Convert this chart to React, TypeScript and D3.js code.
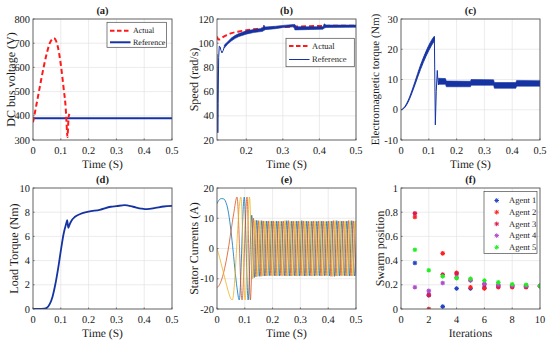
import * as d3 from 'd3';
import type { ReactNode } from 'react';

const W = 550;
const H = 345;
const COL_X = [33, 217, 401];
const ROW_Y = [19, 188];
const PW = 139;
const PH = 121;

const FONT = 'Liberation Serif, Times New Roman, serif';
const BLUE = '#1533a3';
const RED = '#ff1a1a';
const PHASE_COLORS = ['#0072bd', '#d95319', '#edb120'];
const AGENT_COLORS = ['#2444c4', '#ff2020', '#dc1850', '#b04cd0', '#22ee22'];
const GRID = '#e4e4e4';
const AXIS = '#4a4a4a';
const TXT = '#1a1a1a';

const timeTicks = [0, 0.1, 0.2, 0.3, 0.4, 0.5];

// (a) DC bus voltage
const dcTime = [0, 0.01, 0.02, 0.03, 0.04, 0.05, 0.06, 0.07, 0.075, 0.08, 0.09, 0.1, 0.11, 0.118, 0.12, 0.122, 0.124, 0.126, 0.128, 0.131];
const dcActual = [373, 432, 492, 553, 610, 660, 699, 718, 721, 716, 682, 612, 515, 425, 385, 340, 312, 350, 395, 408];
const dcReference = 390;
const dcTicks = [300, 400, 500, 600, 700, 800];

// (b) speed
const speedTicksX = [0.2, 0.3, 0.4, 0.5];
const speedTicksY = [20, 40, 60, 80, 100, 120];
const speedActualT = [0.12, 0.124, 0.128, 0.135, 0.145, 0.16, 0.18, 0.2, 0.23, 0.26, 0.3, 0.35, 0.4, 0.45, 0.5];
const speedActualV = [105.5, 103, 103.3, 104.8, 106.5, 108.3, 109.7, 110.7, 111.8, 112.6, 113.4, 113.9, 114.2, 114.4, 114.5];
const speedStartT = [0.12, 0.1212, 0.1222, 0.1232, 0.1245, 0.1262, 0.1285, 0.131, 0.1335, 0.137, 0.14];
const speedStartV = [91, 62, 26, 50, 88, 97.5, 97, 94, 92, 94, 97];
const speedBandT = [0.14, 0.15, 0.16, 0.17, 0.18, 0.2, 0.22, 0.245, 0.248, 0.252, 0.28, 0.3, 0.33, 0.333, 0.336, 0.41, 0.413, 0.418, 0.5];
const speedBandLo = [96, 99.5, 102, 104, 105.5, 107.5, 108.8, 109.8, 110.5, 111.2, 112, 113, 113.5, 111, 111, 111.6, 112.5, 113, 113.2];
const speedBandHi = [98.5, 101.5, 104.5, 106.5, 108, 110.2, 111.3, 112.3, 115, 113.4, 114, 114.7, 115.5, 115.5, 113.6, 113.6, 116, 115, 115];

// (c) electromagnetic torque
const torqueTicks = [-10, 0, 10, 20, 30];
const torqueRiseT = [0, 0.01, 0.02, 0.03, 0.04, 0.05, 0.06, 0.07, 0.08, 0.09, 0.1, 0.11, 0.12];
const torqueRiseLo = [0, 0.4, 1.6, 3.4, 5.7, 8.2, 10.8, 13.3, 15.6, 17.7, 19.6, 21.3, 22.8];
const torqueRiseHi = [0, 0.6, 2.0, 4.0, 6.5, 9.2, 12.0, 14.7, 17.1, 19.3, 21.3, 23.0, 24.3];
const torqueSpikeT = [0.12, 0.1235, 0.1268, 0.1305, 0.1325, 0.1345, 0.1365];
const torqueSpikeV = [24, -5, 6, 13, 10, 8.2, 9.5];
const torqueBandT = [0.135, 0.16, 0.163, 0.25, 0.252, 0.333, 0.336, 0.413, 0.416, 0.5];
const torqueBandLo = [8.4, 8.4, 7.6, 7.6, 8.1, 8.1, 7.1, 7.1, 7.8, 7.8];
const torqueBandHi = [10.4, 10.3, 9.5, 9.4, 10.0, 9.9, 9.0, 9.0, 9.7, 9.6];

// (d) load torque
const loadTicks = [0, 2, 4, 6, 8, 10];
const loadT = [0, 0.02, 0.04, 0.05, 0.06, 0.07, 0.08, 0.09, 0.1, 0.11, 0.12, 0.123, 0.127, 0.132, 0.14, 0.15, 0.17, 0.2, 0.24, 0.28, 0.3, 0.33, 0.36, 0.39, 0.41, 0.44, 0.47, 0.5];
const loadV = [0, 0, 0.02, 0.1, 0.4, 1.0, 2.0, 3.3, 4.8, 6.2, 7.1, 7.35, 6.7, 7.0, 7.35, 7.6, 7.85, 8.05, 8.2, 8.45, 8.5, 8.58, 8.45, 8.3, 8.25, 8.35, 8.47, 8.52];

// (e) stator currents, [time, current] at turning points
const currentTicks = [-20, -10, 0, 10, 20];
const statorA: [number, number][] = [
  [0, 14.8], [0.008, 16.1], [0.016, 16.5], [0.024, 16.4], [0.032, 15.3], [0.04, 12.5], [0.048, 7.5], [0.056, 1], [0.064, -6.5], [0.072, -13], [0.08, -17], [0.098, 17], [0.112, -17], [0.125, 11],
  [0.134, -9.6], [0.143, 9.3], [0.152, -9.2], [0.161, 9.2], [0.17, -9.1], [0.179, 9.1], [0.188, -9.0], [0.197, 9.1], [0.206, -9.0], [0.215, 9.1],
  [0.224, -9.1], [0.233, 9.0], [0.242, -9.0], [0.251, 9.2], [0.26, -9.1], [0.269, 9.1], [0.278, -9.0], [0.287, 9.1], [0.296, -9.1], [0.305, 9.2],
  [0.314, -9.1], [0.323, 9.1], [0.332, -9.0], [0.341, 9.0], [0.35, -9.1], [0.359, 9.0], [0.368, -9.0], [0.377, 9.1], [0.386, -9.0], [0.395, 9.0],
  [0.404, -9.1], [0.413, 9.1], [0.422, -9.2], [0.431, 9.2], [0.44, -9.1], [0.449, 9.1], [0.458, -9.0], [0.467, 9.1], [0.476, -9.1], [0.485, 9.2],
  [0.494, -9.1], [0.503, 9.1],
];
const statorB: [number, number][] = [
  [0, -13], [0.01, -11.8], [0.02, -9.3], [0.03, -5.5], [0.04, -0.5], [0.05, 5.5], [0.06, 11.5], [0.072, 17], [0.09, -17], [0.108, 17], [0.12, -17], [0.131, 10],
  [0.14, -9.4], [0.149, 9.2], [0.158, -9.2], [0.167, 9.1], [0.176, -9.1], [0.185, 9.1], [0.194, -9.0], [0.203, 9.1], [0.212, -9.1], [0.221, 9.0],
  [0.23, -9.0], [0.239, 9.1], [0.248, -9.1], [0.257, 9.2], [0.266, -9.1], [0.275, 9.0], [0.284, -9.1], [0.293, 9.1], [0.302, -9.0], [0.311, 9.1],
  [0.32, -9.1], [0.329, 9.0], [0.338, -9.1], [0.347, 9.1], [0.356, -9.0], [0.365, 9.1], [0.374, -9.1], [0.383, 9.0], [0.392, -9.0], [0.401, 9.1],
  [0.41, -9.2], [0.419, 9.2], [0.428, -9.1], [0.437, 9.1], [0.446, -9.0], [0.455, 9.1], [0.464, -9.1], [0.473, 9.2], [0.482, -9.1], [0.491, 9.1],
  [0.5, -9.1], [0.509, 9.1],
];
const statorC: [number, number][] = [
  [0, 0], [0.01, -3.2], [0.02, -6.8], [0.03, -10.5], [0.04, -14], [0.048, -16.3], [0.055, -17], [0.086, 17], [0.101, -17], [0.117, 17], [0.128, -10],
  [0.137, 9.3], [0.146, -9.2], [0.155, 9.2], [0.164, -9.1], [0.173, 9.1], [0.182, -9.0], [0.191, 9.1], [0.2, -9.1], [0.209, 9.0], [0.218, -9.0],
  [0.227, 9.1], [0.236, -9.1], [0.245, 9.2], [0.254, -9.1], [0.263, 9.0], [0.272, -9.0], [0.281, 9.1], [0.29, -9.1], [0.299, 9.1], [0.308, -9.0],
  [0.317, 9.1], [0.326, -9.1], [0.335, 9.0], [0.344, -9.1], [0.353, 9.1], [0.362, -9.0], [0.371, 9.1], [0.38, -9.1], [0.389, 9.0], [0.398, -9.0],
  [0.407, 9.1], [0.416, -9.2], [0.425, 9.2], [0.434, -9.1], [0.443, 9.1], [0.452, -9.0], [0.461, 9.1], [0.47, -9.1], [0.479, 9.2], [0.488, -9.1],
  [0.497, 9.1], [0.506, -9.1],
];

// (f) swarm positions
const iterTicks = [0, 2, 4, 6, 8, 10];
const swarmTicks = [0, 0.2, 0.4, 0.6, 0.8, 1];
const iterations = [1, 2, 3, 4, 5, 6, 7, 8, 9, 10];
const agent1 = [0.38, 0.115, 0.02, 0.17, 0.17, 0.175, 0.19, 0.19, 0.19, 0.19];
const agent2 = [0.76, 0.0, 0.46, 0.3, 0.18, 0.17, 0.18, 0.18, 0.18, 0.19];
const agent3 = [0.79, 0.115, 0.285, 0.29, 0.24, 0.2, 0.19, 0.19, 0.185, 0.19];
const agent4 = [0.18, 0.15, 0.215, 0.26, 0.235, 0.21, 0.2, 0.195, 0.19, 0.19];
const agent5 = [0.49, 0.32, 0.27, 0.255, 0.25, 0.235, 0.22, 0.205, 0.2, 0.19];
const agentNames = ['Agent 1', 'Agent 2', 'Agent 3', 'Agent 4', 'Agent 5'];

type Lin = d3.ScaleLinear<number, number>;

const xScale = (col: number, domain: [number, number]) =>
  d3.scaleLinear().domain(domain).range([COL_X[col], COL_X[col] + PW]);
const yScale = (row: number, domain: [number, number]) =>
  d3.scaleLinear().domain(domain).range([ROW_Y[row] + PH, ROW_Y[row]]);

const zip = (a: number[], b: number[]) => a.map((v, i) => [v, b[i]] as [number, number]);

const txt = { fontFamily: FONT, fontWeight: 400, fill: TXT, textRendering: 'geometricPrecision' } as const;

interface FrameProps {
  id: string;
  x: Lin;
  y: Lin;
  xTicks: number[];
  yTicks: number[];
  title: string;
  xLabel: string;
  yLabel: string;
  yLabelOffset: number;
  yLabelSize?: number;
  children?: ReactNode;
  overlay?: ReactNode;
}

function Frame({ id, x, y, xTicks, yTicks, title, xLabel, yLabel, yLabelOffset, yLabelSize = 12, children, overlay }: FrameProps) {
  const [x0, x1] = x.range();
  const [y0, y1] = y.range();
  const cx = (x0 + x1) / 2;
  const cy = (y0 + y1) / 2;
  return (
    <g>
      <defs>
        <clipPath id={id}>
          <rect x={x0} y={y1} width={x1 - x0} height={y0 - y1} />
        </clipPath>
      </defs>
      <rect x={x0} y={y1} width={x1 - x0} height={y0 - y1} fill="#fff" />
      {xTicks.map(t => (
        <line key={'gx' + t} x1={x(t)} x2={x(t)} y1={y1} y2={y0} stroke={GRID} strokeWidth={0.7} />
      ))}
      {yTicks.map(t => (
        <line key={'gy' + t} x1={x0} x2={x1} y1={y(t)} y2={y(t)} stroke={GRID} strokeWidth={0.7} />
      ))}
      <g clipPath={`url(#${id})`}>{children}</g>
      <rect x={x0} y={y1} width={x1 - x0} height={y0 - y1} fill="none" stroke={AXIS} strokeWidth={0.8} />
      {xTicks.map(t => (
        <line key={'tx' + t} x1={x(t)} x2={x(t)} y1={y0} y2={y0 - 1.6} stroke={AXIS} strokeWidth={0.7} />
      ))}
      {yTicks.map(t => (
        <line key={'ty' + t} x1={x0} x2={x0 + 1.6} y1={y(t)} y2={y(t)} stroke={AXIS} strokeWidth={0.7} />
      ))}
      {overlay}
      {xTicks.map(t => (
        <text key={'lx' + t} style={txt} x={x(t)} y={y0 + 13.5} textAnchor="middle" fontSize={10.4}>
          {String(t)}
        </text>
      ))}
      {yTicks.map(t => (
        <text key={'ly' + t} style={txt} x={x0 - 3} y={y(t)} dy="0.35em" textAnchor="end" fontSize={10.4}>
          {String(t)}
        </text>
      ))}
      <text style={{ ...txt, fontWeight: 700 }} x={cx} y={y1 - 5} textAnchor="middle" fontSize={10.5}>
        {title}
      </text>
      <text style={txt} x={cx} y={y0 + 27.5} textAnchor="middle" fontSize={11.5}>
        {xLabel}
      </text>
      <text
        style={txt}
        transform={`translate(${x0 + yLabelOffset},${cy}) rotate(-90)`}
        dy="0.35em"
        textAnchor="middle"
        fontSize={yLabelSize}
      >
        {yLabel}
      </text>
    </g>
  );
}

function LineLegend({ x, y, w, h, size, rows }: {
  x: number; y: number; w: number; h: number; size: number;
  rows: { label: string; color: string; width: number; dash?: string; yOff: number }[];
}) {
  return (
    <g>
      <rect x={x} y={y} width={w} height={h} fill="#fff" stroke={AXIS} strokeWidth={0.7} />
      {rows.map(r => (
        <g key={r.label}>
          <line x1={x + 3} x2={x + 23.5} y1={y + r.yOff} y2={y + r.yOff} stroke={r.color} strokeWidth={r.width} strokeDasharray={r.dash} />
          <text style={txt} fontSize={size} x={x + 26} y={y + r.yOff} dy="0.33em">{r.label}</text>
        </g>
      ))}
    </g>
  );
}

function asterisk(cx: number, cy: number, r: number) {
  const d = r * 0.72;
  return `M${cx - r},${cy}H${cx + r}M${cx},${cy - r}V${cy + r}M${cx - d},${cy - d}L${cx + d},${cy + d}M${cx - d},${cy + d}L${cx + d},${cy - d}`;
}

export default function App() {
  // (a)
  const xa = xScale(0, [0, 0.5]);
  const ya = yScale(0, [300, 800]);
  const dcLine = d3.line<[number, number]>().x(d => xa(d[0])).y(d => ya(d[1])).curve(d3.curveMonotoneX);

  // (b)
  const xb = xScale(1, [0.12, 0.5]);
  const yb = yScale(0, [20, 120]);
  const bLine = d3.line<[number, number]>().x(d => xb(d[0])).y(d => yb(d[1]));
  const bSmooth = d3.line<[number, number]>().x(d => xb(d[0])).y(d => yb(d[1])).curve(d3.curveMonotoneX);
  const bArea = d3.area<number>()
    .x((_, i) => xb(speedBandT[i]))
    .y0((_, i) => yb(speedBandLo[i]))
    .y1((_, i) => yb(speedBandHi[i]));

  // (c)
  const xc = xScale(2, [0, 0.5]);
  const yc = yScale(0, [-10, 30]);
  const riseArea = d3.area<number>()
    .x((_, i) => xc(torqueRiseT[i]))
    .y0((_, i) => yc(torqueRiseLo[i]))
    .y1((_, i) => yc(torqueRiseHi[i]))
    .curve(d3.curveMonotoneX);
  const bandArea = d3.area<number>()
    .x((_, i) => xc(torqueBandT[i]))
    .y0((_, i) => yc(torqueBandLo[i]))
    .y1((_, i) => yc(torqueBandHi[i]));
  const cLine = d3.line<[number, number]>().x(d => xc(d[0])).y(d => yc(d[1]));

  // (d)
  const xd = xScale(0, [0, 0.5]);
  const yd = yScale(1, [0, 10]);
  const dLine = d3.line<[number, number]>().x(d => xd(d[0])).y(d => yd(d[1])).curve(d3.curveMonotoneX);

  // (e)
  const xe = xScale(1, [0, 0.5]);
  const ye = yScale(1, [-20, 20]);
  const eLine = d3.line<[number, number]>().x(d => xe(d[0])).y(d => ye(d[1])).curve(d3.curveMonotoneX);

  // (f)
  const xf = xScale(2, [0, 10]);
  const yf = yScale(1, [0, 1]);
  const agents = [agent1, agent2, agent3, agent4, agent5];

  return (
    <svg width={W} height={H} style={{ position: 'absolute', left: 0, top: 0, background: '#fff' }}>
      <Frame
        id="clip-a" x={xa} y={ya} xTicks={timeTicks} yTicks={dcTicks}
        title="(a)" xLabel="Time (S)" yLabel="DC bus voltage (V)" yLabelOffset={-22}
        overlay={
          <LineLegend
            x={xa(0.5) - 65} y={ya(800) + 3.3} w={59.5} h={25} size={8}
            rows={[
              { label: 'Actual', color: RED, width: 2, dash: '4.5 2.5', yOff: 8.5 },
              { label: 'Reference', color: BLUE, width: 2, yOff: 20 },
            ]}
          />
        }
      >
        <line x1={xa(0)} x2={xa(0.5)} y1={ya(dcReference)} y2={ya(dcReference)} stroke={BLUE} strokeWidth={2} />
        <path d={dcLine(zip(dcTime, dcActual)) ?? ''} fill="none" stroke={RED} strokeWidth={2} strokeDasharray="5 3" />
      </Frame>

      <Frame
        id="clip-b" x={xb} y={yb} xTicks={speedTicksX} yTicks={speedTicksY}
        title="(b)" xLabel="Time (S)" yLabel="Speed (rad/s)" yLabelOffset={-23.5}
        overlay={
          <LineLegend
            x={xb(0.5) - 70} y={yb(120) + 19.3} w={68.3} h={28.4} size={8.5}
            rows={[
              { label: 'Actual', color: RED, width: 2, dash: '4.5 2.5', yOff: 7.7 },
              { label: 'Reference', color: BLUE, width: 1, yOff: 21.2 },
            ]}
          />
        }
      >
        <path d={bSmooth(zip(speedActualT, speedActualV)) ?? ''} fill="none" stroke={RED} strokeWidth={2} strokeDasharray="5 3" />
        <path d={bLine(zip(speedStartT, speedStartV)) ?? ''} fill="none" stroke={BLUE} strokeWidth={1} />
        <path d={bArea(speedBandT) ?? ''} fill={BLUE} stroke={BLUE} strokeWidth={0.6} />
      </Frame>

      <Frame
        id="clip-c" x={xc} y={yc} xTicks={timeTicks} yTicks={torqueTicks}
        title="(c)" xLabel="Time (S)" yLabel="Electromagnetic torque (Nm)" yLabelOffset={-26} yLabelSize={11.2}
      >
        <path d={riseArea(torqueRiseT) ?? ''} fill={BLUE} stroke={BLUE} strokeWidth={0.9} />
        <path d={cLine(zip(torqueSpikeT, torqueSpikeV)) ?? ''} fill="none" stroke={BLUE} strokeWidth={1} />
        <path d={bandArea(torqueBandT) ?? ''} fill={BLUE} stroke={BLUE} strokeWidth={0.6} />
      </Frame>

      <Frame
        id="clip-d" x={xd} y={yd} xTicks={timeTicks} yTicks={loadTicks}
        title="(d)" xLabel="Time (S)" yLabel="Load Torque (Nm)" yLabelOffset={-19}
      >
        <path d={dLine(zip(loadT, loadV)) ?? ''} fill="none" stroke={BLUE} strokeWidth={1.8} />
      </Frame>

      <Frame
        id="clip-e" x={xe} y={ye} xTicks={timeTicks} yTicks={currentTicks}
        title="(e)" xLabel="Time (S)" yLabel="Stator Currents (A)" yLabelOffset={-23}
      >
        {[statorA, statorB, statorC].map((s, i) => (
          <path key={i} d={eLine(s) ?? ''} fill="none" stroke={PHASE_COLORS[i]} strokeWidth={0.8} />
        ))}
      </Frame>

      <Frame
        id="clip-f" x={xf} y={yf} xTicks={iterTicks} yTicks={swarmTicks}
        title="(f)" xLabel="Iterations" yLabel="Swarm position" yLabelOffset={-21}
        overlay={
          <g>
            <rect x={xf(10) - 56} y={yf(1) + 3.5} width={53} height={62} fill="#fff" stroke={AXIS} strokeWidth={0.7} />
            {agentNames.map((name, i) => (
              <g key={name}>
                <path d={asterisk(xf(10) - 43.3, yf(1) + 12.5 + i * 11.7, 2.3)} stroke={AGENT_COLORS[i]} strokeWidth={1} />
                <text style={txt} fontSize={8.5} x={xf(10) - 31} y={yf(1) + 12.5 + i * 11.7} dy="0.33em">{name}</text>
              </g>
            ))}
          </g>
        }
      >
        {agents.map((vals, a) =>
          vals.map((v, i) => (
            <path key={a + '-' + i} d={asterisk(xf(iterations[i]), yf(v), 2.3)} stroke={AGENT_COLORS[a]} strokeWidth={1.1} />
          )),
        )}
      </Frame>
    </svg>
  );
}
